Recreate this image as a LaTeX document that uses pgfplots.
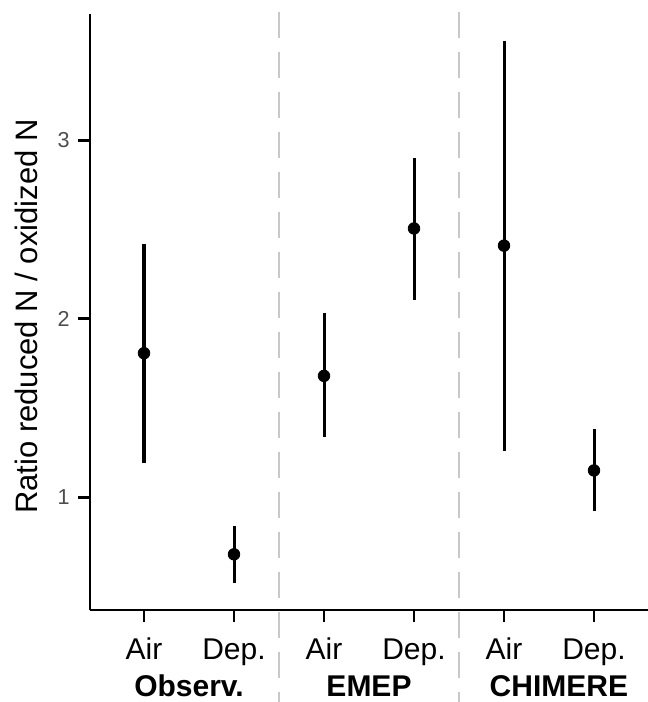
\documentclass[border=0pt]{standalone}
\usepackage{pgfplots}
\pgfplotsset{compat=1.18}
\usepackage{pgfplotstable}
\usepackage{fontspec}
\setmainfont{Liberation Sans}
\definecolor{dashgray}{HTML}{C8C8C8}
\definecolor{tickgray}{HTML}{4D4D4D}
\pgfplotstableread{
x y lo hi
1 1.807 1.19 2.42
2 0.68 0.52 0.84
3 1.68 1.338 2.03
4 2.506 2.106 2.90
5 2.41 1.26 3.556
6 1.15 0.92 1.38
}\ratios
\begin{document}
\begin{tikzpicture}
\begin{axis}[
  name=ax,
  scale only axis, width=279pt, height=298pt,
  xmin=0.4, xmax=6.6, ymin=0.368, ymax=3.708,
  axis x line=bottom, axis y line=left,
  axis line style={line width=1.4pt, -},
  xtick={1,2,3,4,5,6},
  xticklabels={Air,Dep.,Air,Dep.,Air,Dep.},
  ytick={1,2,3},
  tick align=outside, major tick length=6pt,
  tick style={line width=1.4pt, black},
  /pgf/number format/assume math mode=true,
  xticklabel style={font=\fontsize{15}{18}\selectfont, anchor=base, inner sep=0pt, yshift=-18.5pt},
  yticklabel style={font=\fontsize{10.8}{13}\selectfont, text=tickgray, anchor=east, inner sep=0pt, xshift=-4pt},
  ylabel={Ratio reduced N / oxidized N},
  ylabel style={font=\fontsize{15.5}{18}\selectfont, at={(axis description cs:-0.1344,0.4924)}, anchor=north, inner sep=0pt},
  clip=false,
]
\addplot[dashgray, line width=1.4pt, dash pattern=on 13pt off 7pt, forget plot] coordinates {(2.5,3.719) (2.5,-0.147)};
\addplot[dashgray, line width=1.4pt, dash pattern=on 13pt off 7pt, forget plot] coordinates {(4.5,3.719) (4.5,-0.147)};
\addplot[only marks, mark=*, mark size=2.9pt, black,
  error bars/.cd, y dir=both, y explicit, error mark=none,
  error bar style={line width=1.5pt, black}]
  table[x=x, y=y, y error plus expr=\thisrow{hi}-\thisrow{y}, y error minus expr=\thisrow{y}-\thisrow{lo}] {\ratios};
\node[font=\bfseries\fontsize{15}{18}\selectfont, anchor=base, inner sep=0pt] at ([yshift=-43pt]axis cs:1.5,0.368) {Observ.};
\node[font=\bfseries\fontsize{15}{18}\selectfont, anchor=base, inner sep=0pt] at ([yshift=-43pt]axis cs:3.5,0.368) {EMEP};
\node[font=\bfseries\fontsize{15}{18}\selectfont, anchor=base, inner sep=0pt] at ([yshift=-43pt]axis cs:5.61,0.368) {CHIMERE};
\end{axis}
\pgfresetboundingbox
\path ([xshift=-45pt, yshift=-46pt]ax.south west) rectangle ([yshift=7pt]ax.north east);
\end{tikzpicture}
\end{document}
